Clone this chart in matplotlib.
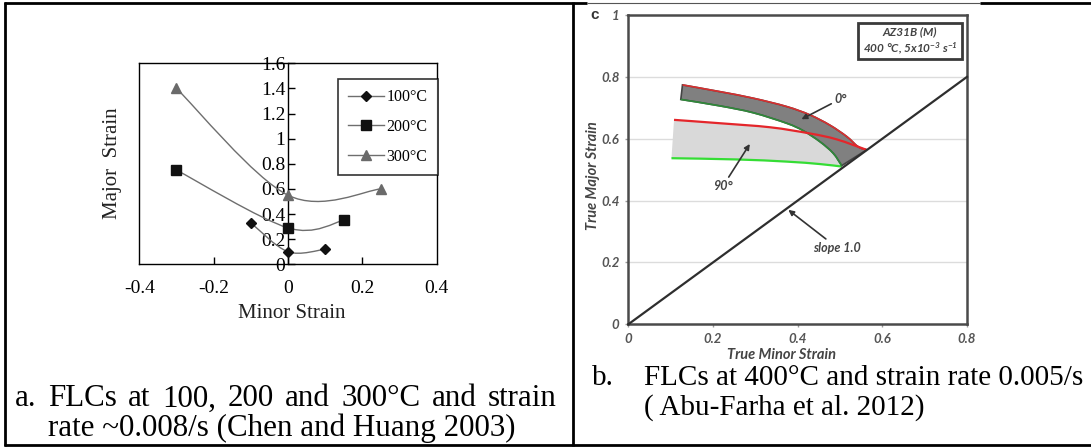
import numpy as np
import matplotlib
matplotlib.use('Agg')
import matplotlib.pyplot as plt
from matplotlib.path import Path
from matplotlib.patches import PathPatch, Rectangle
from matplotlib.lines import Line2D

plt.rcParams['mathtext.fontset'] = 'custom'
plt.rcParams['mathtext.rm'] = 'Lato:bold:italic'
plt.rcParams['mathtext.it'] = 'Lato:bold:italic'
plt.rcParams['mathtext.bf'] = 'Lato:bold:italic'

W, H = 1091, 447

# (a) forming limit curves, Chen and Huang 2003
temps = ['100°C', '200°C', '300°C']
minor_100 = [-0.1, 0.0, 0.1]
major_100 = [0.33, 0.10, 0.12]
minor_200 = [-0.3, 0.0, 0.15]
major_200 = [0.75, 0.29, 0.35]
minor_300 = [-0.3, 0.0, 0.25]
major_300 = [1.40, 0.55, 0.60]
a_xticks = [-0.4, -0.2, 0.0, 0.2, 0.4]
a_xlabels = ['-0.4', '-0.2', '0', '0.2', '0.4']
a_yticks = [0, 0.2, 0.4, 0.6, 0.8, 1.0, 1.2, 1.4, 1.6]
a_ylabels = ['0', '0.2', '0.4', '0.6', '0.8', '1', '1.2', '1.4', '1.6']

# (b) FLC bands for AZ31B at 400 C, Abu-Farha et al. 2012
upper0_x = [0.128, 0.217, 0.295, 0.374, 0.429, 0.476, 0.516, 0.543, 0.563]
upper0_y = [0.774, 0.752, 0.731, 0.704, 0.677, 0.644, 0.607, 0.574, 0.564]
lower0_x = [0.124, 0.217, 0.295, 0.374, 0.413, 0.453, 0.484, 0.504]
lower0_y = [0.727, 0.706, 0.684, 0.650, 0.626, 0.590, 0.553, 0.513]
upper90_x = [0.108, 0.217, 0.335, 0.429, 0.492, 0.563]
upper90_y = [0.661, 0.650, 0.637, 0.617, 0.598, 0.564]
lower90_x = [0.102, 0.256, 0.374, 0.453, 0.504]
lower90_y = [0.537, 0.533, 0.526, 0.518, 0.510]
slope_x = [0.0, 0.8]
slope_y = [0.0, 0.8]
b_ticks = [0, 0.2, 0.4, 0.6, 0.8]
b_xlabels = ['0', '0.2', '0.4', '0.6', '0.8']
b_yticks = [0, 0.2, 0.4, 0.6, 0.8, 1.0]
b_ylabels = ['0', '0.2', '0.4', '0.6', '0.8', '1']

SERIF = 'Liberation Serif'
SANS = ['Lato', 'DejaVu Sans']


def fx(x):
    return x / W


def fy(y):
    return 1 - y / H


def px_axes(fig, l, t, r, b):
    return fig.add_axes([fx(l), fy(b), (r - l) / W, (b - t) / H])


def smooth_verts(xs, ys):
    # spreadsheet-style smoothed line: cubic Bezier through every point
    p = np.column_stack([xs, ys]).astype(float)
    n = len(p)
    verts = [p[0]]
    for i in range(n - 1):
        p0 = p[max(i - 1, 0)]
        p3 = p[min(i + 2, n - 1)]
        verts += [p[i] + (p[i + 1] - p0) / 6, p[i + 1] - (p3 - p[i]) / 6, p[i + 1]]
    return np.array(verts)


def smooth_path(xs, ys):
    v = smooth_verts(xs, ys)
    return Path(v, [Path.MOVETO] + [Path.CURVE4] * (len(v) - 1))


def band_path(ux, uy, lx, ly):
    up = smooth_verts(ux, uy)
    lo = smooth_verts(lx, ly)[::-1]
    verts = np.vstack([up, lo, up[:1]])
    codes = ([Path.MOVETO] + [Path.CURVE4] * (len(up) - 1) + [Path.LINETO]
             + [Path.CURVE4] * (len(lo) - 1) + [Path.CLOSEPOLY])
    return Path(verts, codes)


fig = plt.figure(figsize=(W / 100, H / 100), dpi=100)
fig.patch.set_facecolor('white')

# ---------------- table borders ----------------
def hline(x0, x1, y, lw=2.0, color='black'):
    fig.add_artist(Line2D([fx(x0), fx(x1)], [fy(y), fy(y)], color=color, lw=lw, solid_capstyle='butt'))


def vline(x, y0, y1, lw=2.0, color='black'):
    fig.add_artist(Line2D([fx(x), fx(x)], [fy(y0), fy(y1)], color=color, lw=lw, solid_capstyle='butt'))


hline(4, 587, 3)
hline(587, 980, 2.5, lw=0.8, color='#555555')
hline(980, W, 3)
hline(4, W, 444.5)
vline(5, 2, 446)
vline(573, 2, 446)

# ---------------- panel a ----------------
ax = px_axes(fig, 139.3, 63.3, 436.7, 264.3)
gray = '#6e6e6e'
series = [
    (minor_100, major_100, 'D', 5.0, '#111111'),
    (minor_200, major_200, 's', 6.5, '#111111'),
    (minor_300, major_300, '^', 7.0, '#6a6a6a'),
]
handles = []
for (xs, ys, mk, ms, mc), lab in zip(series, temps):
    ax.add_patch(PathPatch(smooth_path(xs, ys), fill=False, edgecolor=gray, lw=1.0, zorder=2))
    ax.plot(xs, ys, linestyle='none', marker=mk, ms=ms, mfc=mc, mec=mc, zorder=3)
    handles.append(Line2D([], [], color=gray, lw=1.0, marker=mk, ms=ms, mfc=mc, mec=mc, label=lab))

ax.set_xlim(-0.4, 0.4)
ax.set_ylim(0, 1.6)
ax.spines['left'].set_position(('data', 0))
for s in ax.spines.values():
    s.set_linewidth(1.0)
    s.set_color('black')
ax.axvline(-0.4, color='black', lw=1.0, clip_on=False)
ax.set_xticks(a_xticks)
ax.set_xticklabels(a_xlabels, family=SERIF, fontsize=14)
ax.set_yticks(a_yticks)
ax.set_yticklabels(a_ylabels, family=SERIF, fontsize=14)
ax.tick_params(axis='x', direction='in', length=5, pad=11, width=1.0)
ax.tick_params(axis='y', direction='in', length=5, pad=2, width=1.0)
for t in ax.get_xticklines()[::2][:1] + ax.get_xticklines()[::2][-1:]:
    t.set_visible(False)
ax.patch.set_alpha(0)

leg = ax.legend(handles=handles, loc='upper left', bbox_to_anchor=(fx(338), fy(79)),
                bbox_transform=fig.transFigure, borderaxespad=0, fancybox=False,
                prop={'family': SERIF, 'size': 11.5}, handlelength=2.2, handletextpad=0.2,
                labelspacing=0.85, borderpad=0.65)
leg.get_frame().set_edgecolor('black')
leg.get_frame().set_linewidth(1.2)

fig.text(fx(112), fy(163), 'Major  Strain', rotation=90, ha='center', va='center',
         family=SERIF, fontsize=15, color='#222222')
fig.text(fx(292), fy(313), 'Minor Strain', ha='center', va='center',
         family=SERIF, fontsize=15, color='#222222')

# ---------------- panel b ----------------
bx = px_axes(fig, 628.3, 15, 967, 324.3)
bx.set_xlim(0, 0.8)
bx.set_ylim(0, 1)
for y in b_yticks[1:-1]:
    bx.axhline(y, color='#dcdcdc', lw=1.0, zorder=0)

bx.add_patch(PathPatch(band_path(upper90_x, upper90_y, lower90_x, lower90_y),
                       facecolor='#d9d9d9', edgecolor='none', zorder=1))
bx.add_patch(PathPatch(smooth_path(lower90_x, lower90_y), fill=False,
                       edgecolor='#35dd35', lw=1.6, zorder=2))
bx.add_patch(PathPatch(band_path(upper0_x, upper0_y, lower0_x, lower0_y),
                       facecolor='#808080', edgecolor='#444444', lw=1.2, zorder=3))
bx.add_patch(PathPatch(smooth_path(upper0_x, upper0_y), fill=False,
                       edgecolor='#d83030', lw=1.2, zorder=4))
bx.add_patch(PathPatch(smooth_path(lower0_x, lower0_y), fill=False,
                       edgecolor='#2f8a3a', lw=1.2, zorder=4))
bx.add_patch(PathPatch(smooth_path(upper90_x, upper90_y), fill=False,
                       edgecolor='#e4262b', lw=1.6, zorder=5))
bx.plot(slope_x, slope_y, color='#2e2e2e', lw=1.6, zorder=6, clip_on=False)

for s in bx.spines.values():
    s.set_linewidth(1.8)
    s.set_color('#4a4a4a')
bx.set_xticks(b_ticks)
bx.set_xticklabels(b_xlabels)
bx.set_yticks(b_yticks)
bx.set_yticklabels(b_ylabels)
bx.tick_params(length=2.5, width=1.0, color='#9a9a9a', pad=4, labelcolor='#555555')
for lab in bx.get_xticklabels() + bx.get_yticklabels():
    lab.set_family(SANS)
    lab.set_fontsize(9.5)
    lab.set_fontweight('bold')
    lab.set_fontstyle('italic')

note = dict(family=SANS, fontsize=9, fontweight='bold', fontstyle='italic', color='#444444')
arrow = dict(arrowstyle='-|>', color='#333333', lw=1.2, mutation_scale=8, shrinkA=0, shrinkB=0)
bx.annotate('0°', xy=(0.409, 0.663), xytext=(0.486, 0.728), ha='left', va='center',
            arrowprops=arrow, zorder=7, **note)
bx.annotate('90°', xy=(0.287, 0.583), xytext=(0.224, 0.467), ha='center', va='top',
            arrowprops=arrow, zorder=7, **note)
bx.annotate('slope 1.0', xy=(0.378, 0.370), xytext=(0.437, 0.267), ha='left', va='top',
            arrowprops=arrow, zorder=7, **note)

box = dict(family=SANS, fontsize=8.5, fontweight='bold', fontstyle='italic', color='#444444')
bx.add_patch(Rectangle((0.542, 0.857), 0.247, 0.117, facecolor='white',
                       edgecolor='#3a3a3a', lw=2.0, zorder=7))
bx.text(0.6655, 0.945, 'AZ31B (M)', ha='center', va='center', zorder=8, **box)
bx.text(0.6655, 0.893, r'400 °C, 5x10$^{-3}$ s$^{-1}$', ha='center', va='center', zorder=8, **box)

fig.text(fx(595), fy(15), 'c', ha='center', va='center', family='Liberation Sans',
         fontsize=11, fontweight='bold', color='#333333')
fig.text(fx(593), fy(176), 'True Major Strain', rotation=90, ha='center', va='center',
         family=SANS, fontsize=10.5, fontweight='bold', fontstyle='italic', color='#444444')
fig.text(fx(781), fy(355), 'True Minor Strain', ha='center', va='center',
         family=SANS, fontsize=10.5, fontweight='bold', fontstyle='italic', color='#444444')

# ---------------- captions ----------------
renderer = fig.canvas.get_renderer()
cap_a = dict(family=SERIF, fontsize=22.3, color='black', va='center')
cap_b = dict(family=SERIF, fontsize=21, color='black', va='center')


def justified(words, x0, x1, y, **kw):
    texts = [fig.text(0, fy(y), w, **kw) for w in words]
    widths = [t.get_window_extent(renderer).width for t in texts]
    gap = (x1 - x0 - sum(widths)) / (len(words) - 1)
    x = x0
    for t, w in zip(texts, widths):
        t.set_x(fx(x))
        x += w + gap


fig.text(fx(15), fy(399), 'a.', **cap_a)
justified('FLCs at 100, 200 and 300°C and strain'.split(), 48, 557, 399, **cap_a)
fig.text(fx(48), fy(428), 'rate ~0.008/s (Chen and Huang 2003)', **cap_a)

fig.text(fx(592), fy(378), 'b.', **cap_b)
fig.text(fx(644), fy(378), 'FLCs at 400°C and strain rate 0.005/s', **cap_b)
fig.text(fx(644), fy(408), '( Abu-Farha et al. 2012)', **cap_b)

fig.savefig('out.png', dpi=100, facecolor='white')
